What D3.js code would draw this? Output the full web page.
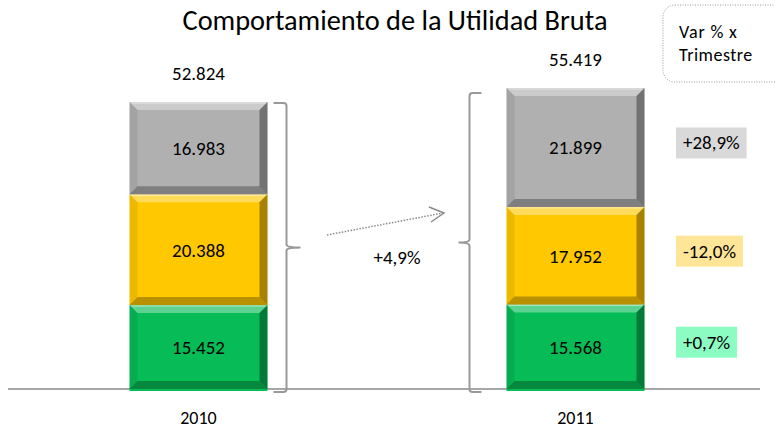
<!DOCTYPE html>
<html>
<head>
<meta charset="utf-8">
<script src="https://cdn.jsdelivr.net/npm/d3@7"></script>
<style>
  body { margin: 0; background: #fff; }
  svg { display: block; font-family: Carlito, Calibri, Lato, sans-serif; }
</style>
</head>
<body>
<svg id="chart" width="775" height="429"></svg>
<script>
// data
var years = ["2010", "2011"];
var segments = ["green", "yellow", "gray"];          // bottom to top
var values2010 = [15.452, 20.388, 16.983];
var values2011 = [15.568, 17.952, 21.899];
var totals = [52.824, 55.419];
var variation = ["+0,7%", "-12,0%", "+28,9%"];       // per segment, bottom to top
var totalChange = "+4,9%";
var title = "Comportamiento de la Utilidad Bruta";

var fmt = function(v){ return v.toFixed(3); };

var colors = {
	green:  {face: "#07bb57", box: "#8cfcc3"},
	yellow: {face: "#ffc800", box: "#ffe598"},
	gray:   {face: "#b0b0b0", box: "#d9d9d9"}
};

var svg = d3.select("#chart");

var x = d3.scalePoint().domain(years).range([198.5, 575.5]);
var y = d3.scaleLinear().domain([0, d3.max(totals)]).range([389, 88]);
var barW = 138;
var bev = 8;

// stack the values
var rows = [values2010, values2011].map(function(vals, i){
	var acc = 0;
	return vals.map(function(v, j){
		var s = {year: years[i], key: segments[j], value: v, y0: acc, y1: acc + v};
		acc += v;
		return s;
	});
});

// title
var t = svg.append("text")
	.attr("x", 395).attr("y", 30)
	.attr("text-anchor", "middle")
	.attr("font-size", 28)
	.attr("fill", "#000")
	.text(title);
var len = t.node().getComputedTextLength();
t.attr("font-size", 28 * 425 / len);

// baseline
svg.append("line")
	.attr("x1", 8).attr("x2", 760)
	.attr("y1", y(0)).attr("y2", y(0))
	.attr("stroke", "#8a8a8a").attr("stroke-width", 1.5);

// bars with bevel
rows.forEach(function(row){
	row.forEach(function(d){
		var x0 = x(d.year) - barW / 2, top = y(d.y1), h = y(d.y0) - y(d.y1);
		var g = svg.append("g");
		g.append("rect")
			.attr("x", x0).attr("y", top).attr("width", barW).attr("height", h + (d.y0 === 0 ? 2 : 0))
			.attr("fill", colors[d.key].face);
		var x1 = x0 + barW, b = top + h;
		var polys = [
			{p: [[x0, top], [x1, top], [x1 - bev, top + bev], [x0 + bev, top + bev]], c: "#fff", o: 0.35},
			{p: [[x0, top], [x0 + bev, top + bev], [x0 + bev, b - bev], [x0, b]], c: "#000", o: 0.07},
			{p: [[x1, top], [x1, b], [x1 - bev, b - bev], [x1 - bev, top + bev]], c: "#000", o: 0.35},
			{p: [[x0, b], [x0 + bev, b - bev], [x1 - bev, b - bev], [x1, b]], c: "#000", o: 0.28}
		];
		polys.forEach(function(q){
			g.append("path")
				.attr("d", d3.line()(q.p) + "Z")
				.attr("fill", q.c).attr("fill-opacity", q.o);
		});
		g.append("line")
			.attr("x1", x0 + 2).attr("x2", x1 - 2)
			.attr("y1", top + 1).attr("y2", top + 1)
			.attr("stroke", "#fff").attr("stroke-opacity", 0.5);

		g.append("text")
			.attr("x", x(d.year)).attr("y", (top + b) / 2 + 7)
			.attr("text-anchor", "middle")
			.attr("font-size", 19)
			.attr("fill", "#000")
			.text(fmt(d.value));
	});
});

// totals on top
svg.selectAll(".total")
	.data(totals)
	.enter().append("text")
	.attr("class", "total")
	.attr("x", function(d, i){ return x(years[i]); })
	.attr("y", function(d){ return y(d) - 22; })
	.attr("text-anchor", "middle")
	.attr("font-size", 19)
	.text(fmt);

// year labels
svg.selectAll(".year")
	.data(years)
	.enter().append("text")
	.attr("class", "year")
	.attr("x", function(d){ return x(d); })
	.attr("y", 424)
	.attr("text-anchor", "middle")
	.attr("font-size", 18)
	.text(function(d){ return d; });

// brackets
function brace(xl, top, bot, hook, tip){
	var mid = (top + bot) / 2, r = 3 * Math.sign(hook);
	return "M" + (xl + hook) + "," + top + " L" + (xl + r) + "," + top +
		" Q" + xl + "," + top + " " + xl + "," + (top + 3) +
		" L" + xl + "," + (mid - 3) + " Q" + xl + "," + mid + " " + (xl + tip) + "," + mid +
		" Q" + xl + "," + mid + " " + xl + "," + (mid + 3) +
		" L" + xl + "," + (bot - 3) + " Q" + xl + "," + bot + " " + (xl + r) + "," + bot +
		" L" + (xl + hook) + "," + bot;
}
var r1 = x(years[0]) + barW / 2, l2 = x(years[1]) - barW / 2;
svg.append("path")
	.attr("d", brace(r1 + 19, y(totals[0]) + 1, y(0) + 3, -13, 14))
	.attr("fill", "none").attr("stroke", "#999").attr("stroke-width", 2);
svg.append("path")
	.attr("d", brace(l2 - 37, y(totals[1]) + 5, y(0) + 3, 12, -11))
	.attr("fill", "none").attr("stroke", "#999").attr("stroke-width", 2);

// dotted arrow between the brackets
svg.append("line")
	.attr("x1", 327).attr("y1", 235).attr("x2", 443).attr("y2", 213)
	.attr("stroke", "#8a8a8a").attr("stroke-width", 1.5)
	.attr("stroke-dasharray", "1.5,1.5");
svg.append("path")
	.attr("d", "M429,207 L444,213 L431,222")
	.attr("fill", "none").attr("stroke", "#8a8a8a").attr("stroke-width", 1.5);
svg.append("text")
	.attr("x", 397).attr("y", 264)
	.attr("text-anchor", "middle")
	.attr("font-size", 19)
	.text(totalChange);

// variation boxes next to 2011
rows[1].forEach(function(d, j){
	var cy = (y(d.y0) + y(d.y1)) / 2 - 5;
	var g = svg.append("g");
	var txt = g.append("text")
		.attr("x", 683).attr("y", cy + 7)
		.attr("font-size", 19)
		.text(variation[j]);
	var w = txt.node().getComputedTextLength();
	g.insert("rect", "text")
		.attr("x", 676).attr("y", cy - 15)
		.attr("width", w + 14).attr("height", 31)
		.attr("fill", colors[d.key].box);
});

// legend note box
svg.append("rect")
	.attr("x", 663).attr("y", 5).attr("width", 125).attr("height", 77)
	.attr("rx", 12)
	.attr("fill", "none").attr("stroke", "#999").attr("stroke-width", 1)
	.attr("stroke-dasharray", "1,1.5");
svg.append("text")
	.attr("x", 679).attr("y", 38)
	.attr("font-size", 18).attr("letter-spacing", 0.8)
	.text("Var % x");
svg.append("text")
	.attr("x", 679).attr("y", 61)
	.attr("font-size", 18).attr("letter-spacing", 0.5)
	.text("Trimestre");
</script>
</body>
</html>
